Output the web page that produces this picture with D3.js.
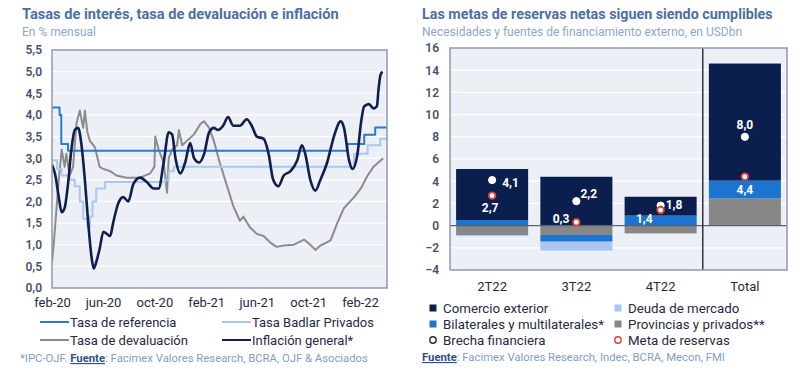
<!DOCTYPE html>
<html>
<head>
<meta charset="utf-8">
<script src="https://cdn.jsdelivr.net/npm/d3@7"></script>
<style>
  body { margin: 0; background: #fff; }
  svg { font-family: Roboto, "Open Sans", sans-serif; }
</style>
</head>
<body>
<svg id="chart" width="800" height="375"></svg>
<script>
// ---- datos: panel izquierdo (% mensual) ----
const refDates = ["2020-02-01","2020-02-19","2020-02-23","2020-03-10","2022-01-02","2022-02-11","2022-03-09","2022-04-06"];
const refValues = [4.17, 4.0, 3.33, 3.17, 3.33, 3.54, 3.71, 3.71];

const badlarDates = ["2020-02-01","2020-02-13","2020-02-24","2020-03-14","2020-03-26","2020-04-07","2020-04-15","2020-04-25","2020-05-01","2020-05-07","2020-05-16","2020-06-06","2020-10-27","2020-11-04","2020-11-16","2022-01-18","2022-02-19","2022-03-21","2022-04-06"];
const badlarValues = [2.95, 2.75, 2.6, 2.5, 2.35, 2.0, 1.6, 1.4, 1.65, 2.0, 2.3, 2.45, 2.5, 2.7, 2.8, 3.1, 3.3, 3.45, 3.45];

const devalDates = ["2020-02-01","2020-02-05","2020-02-09","2020-02-17","2020-02-24","2020-03-02","2020-03-06","2020-03-14","2020-03-22","2020-03-30","2020-04-07","2020-04-15","2020-04-19","2020-04-25","2020-05-01","2020-05-13","2020-05-24","2020-06-02","2020-06-18","2020-07-03","2020-07-27","2020-08-28","2020-09-21","2020-10-01","2020-10-03","2020-10-11","2020-10-23","2020-10-31","2020-11-04","2020-11-12","2020-11-24","2020-11-28","2020-12-06","2020-12-17","2021-01-03","2021-01-19","2021-01-27","2021-02-08","2021-02-19","2021-03-05","2021-03-21","2021-04-06","2021-04-22","2021-04-30","2021-05-16","2021-06-01","2021-06-17","2021-07-03","2021-07-18","2021-08-04","2021-08-28","2021-09-13","2021-09-21","2021-10-06","2021-10-18","2021-10-30","2021-11-23","2021-12-09","2021-12-25","2022-01-18","2022-02-03","2022-02-19","2022-03-05","2022-03-28"];
const devalValues = [0.6, 1.0, 1.5, 2.5, 3.2, 2.8, 3.1, 2.6, 2.8, 3.8, 4.1, 3.7, 4.1, 3.6, 3.4, 3.25, 2.8, 2.75, 2.7, 2.6, 2.55, 2.55, 2.65, 2.8, 3.5, 3.2, 2.9, 2.2, 3.0, 3.2, 3.3, 3.65, 3.3, 3.4, 3.55, 3.8, 3.85, 3.7, 3.4, 2.9, 2.4, 1.9, 1.55, 1.65, 1.4, 1.25, 1.2, 1.05, 0.95, 0.98, 1.0, 1.08, 1.12, 1.0, 0.88, 0.98, 1.1, 1.5, 1.85, 2.1, 2.3, 2.6, 2.8, 3.0];

const inflDates = ["2020-02-01","2020-02-09","2020-02-17","2020-02-24","2020-03-02","2020-03-10","2020-03-18","2020-03-26","2020-04-03","2020-04-11","2020-04-19","2020-04-27","2020-05-05","2020-05-10","2020-05-16","2020-05-24","2020-06-02","2020-06-10","2020-06-18","2020-06-25","2020-07-07","2020-07-19","2020-07-31","2020-08-12","2020-08-28","2020-09-13","2020-09-29","2020-10-11","2020-10-23","2020-11-04","2020-11-12","2020-11-20","2020-12-02","2020-12-13","2020-12-25","2021-01-03","2021-01-15","2021-01-27","2021-02-08","2021-02-19","2021-03-01","2021-03-13","2021-03-25","2021-04-06","2021-04-22","2021-05-08","2021-05-20","2021-06-01","2021-06-17","2021-06-29","2021-07-10","2021-07-22","2021-08-04","2021-08-20","2021-09-05","2021-09-16","2021-09-24","2021-10-06","2021-10-18","2021-10-30","2021-11-15","2021-12-01","2021-12-17","2021-12-25","2022-01-06","2022-01-14","2022-01-26","2022-02-03","2022-02-11","2022-02-22","2022-03-05","2022-03-13","2022-03-17","2022-03-21","2022-03-26"];
const inflValues = [2.85, 2.6, 2.1, 1.75, 1.85, 2.4, 3.2, 3.65, 3.7, 3.3, 2.5, 1.5, 0.7, 0.45, 0.6, 0.9, 1.3, 1.25, 1.2, 1.5, 1.95, 2.1, 2.0, 2.4, 2.55, 2.45, 2.3, 2.3, 2.9, 3.6, 3.55, 3.0, 2.65, 2.9, 3.35, 3.0, 2.9, 3.1, 3.6, 3.7, 3.65, 3.75, 3.95, 3.75, 3.75, 3.9, 3.75, 3.5, 3.45, 3.1, 2.5, 2.35, 2.6, 2.7, 2.95, 3.3, 3.1, 2.5, 2.25, 2.5, 2.9, 3.5, 3.85, 3.7, 2.95, 2.75, 3.1, 3.8, 4.2, 4.25, 4.15, 4.2, 4.6, 4.9, 5.0];

const xTickDates = ["2020-02-01","2020-06-01","2020-10-01","2021-02-01","2021-06-01","2021-10-01","2022-02-01"];
const xTickLabels = ["feb-20","jun-20","oct-20","feb-21","jun-21","oct-21","feb-22"];
const yTicksLeft = [0,0.5,1,1.5,2,2.5,3,3.5,4,4.5,5,5.5];

// ---- datos: panel derecho (USDbn) ----
const quarters = ["2T22","3T22","4T22","Total"];
const comercio = [4.6, 4.4, 1.7, 10.55];
const bilaterales = [0.5, -0.6, 0.9, 1.6];
const deuda = [-0.1, -0.8, 0, 0];
const provincias = [-0.85, -0.85, -0.7, 2.45];
const brecha = [4.1, 2.2, 1.8, 8.0];
const meta = [2.7, 0.3, 1.4, 4.4];
const yTicksRight = [-4,-2,0,2,4,6,8,10,12,14,16];

const svg = d3.select("#chart");
const parse = d3.timeParse("%Y-%m-%d");
const fmt = d3.format(".1f");
const coma = v => fmt(v).replace(".", ",");

const titleCol = "#4d6fa6", subCol = "#8ea6cb", tickCol = "#45526e", textCol = "#1f2a44";

// ================= panel izquierdo =================
const L = {x0: 52, x1: 387, y0: 50, y1: 288};
const xL = d3.scaleTime().domain([parse("2020-02-01"), parse("2022-04-06")]).range([L.x0, L.x1]);
const yL = d3.scaleLinear().domain([0, 5.5]).range([L.y1, L.y0]);

svg.append("text").attr("x", 22).attr("y", 19).attr("fill", titleCol)
  .attr("font-size", 14.6).attr("font-weight", 700)
  .text("Tasas de interés, tasa de devaluación e inflación");
svg.append("text").attr("x", 22).attr("y", 36).attr("fill", subCol)
  .attr("font-size", 12).text("En % mensual");

svg.append("rect").attr("x", L.x0).attr("y", L.y0)
  .attr("width", L.x1 - L.x0).attr("height", L.y1 - L.y0)
  .attr("fill", "#eceff5");

svg.append("g").selectAll("line")
  .data(yTicksLeft.filter(d => d > 0 && d < 5.5))
  .enter().append("line")
  .attr("x1", L.x0).attr("x2", L.x1)
  .attr("y1", d => yL(d)).attr("y2", d => yL(d))
  .attr("stroke", "#fff").attr("stroke-width", 1.2);

const yAxisL = svg.append("g").attr("transform", `translate(${L.x0},0)`)
  .call(d3.axisLeft(yL).tickValues(yTicksLeft).tickSize(0).tickPadding(10)
    .tickFormat(d => coma(d)));
yAxisL.select(".domain").remove();
yAxisL.selectAll("text").attr("fill", tickCol).attr("font-size", 12)
  .attr("font-weight", 600).attr("font-family", "Roboto, sans-serif");

const xAxisL = svg.append("g").attr("transform", `translate(0,${L.y1})`)
  .call(d3.axisBottom(xL).tickValues(xTickDates.map(parse)).tickSize(0).tickPadding(10)
    .tickFormat((d, i) => xTickLabels[i]));
xAxisL.select(".domain").remove();
xAxisL.selectAll("text").attr("fill", textCol).attr("font-size", 13)
  .attr("font-family", "Roboto, sans-serif");

svg.append("clipPath").attr("id", "clipL").append("rect")
  .attr("x", L.x0).attr("y", L.y0).attr("width", L.x1 - L.x0).attr("height", L.y1 - L.y0);

const toPts = (dates, vals) => dates.map((d, i) => ({date: parse(d), v: vals[i]}));
const series = [
  {name: "Tasa de devaluación", pts: toPts(devalDates, devalValues), color: "#8c8c8c", w: 2, curve: d3.curveLinear},
  {name: "Tasa Badlar Privados", pts: toPts(badlarDates, badlarValues), color: "#aac7ee", w: 2, curve: d3.curveStepAfter},
  {name: "Tasa de referencia", pts: toPts(refDates, refValues), color: "#2a7bcf", w: 2, curve: d3.curveStepAfter},
  {name: "Inflación general*", pts: toPts(inflDates, inflValues), color: "#0e1f4f", w: 2.6, curve: d3.curveMonotoneX}
];

const gLines = svg.append("g").attr("clip-path", "url(#clipL)");
series.forEach(s => {
  gLines.append("path").datum(s.pts)
    .attr("fill", "none").attr("stroke", s.color).attr("stroke-width", s.w)
    .attr("stroke-linejoin", "round")
    .attr("d", d3.line().x(d => xL(d.date)).y(d => yL(d.v)).curve(s.curve));
});

svg.append("rect").attr("x", L.x0).attr("y", L.y0)
  .attr("width", L.x1 - L.x0).attr("height", L.y1 - L.y0)
  .attr("fill", "none").attr("stroke", "#8d9ab3").attr("stroke-width", 1.5);

// leyenda izquierda
const legL = [
  {name: "Tasa de referencia", color: "#2a7bcf", x: 40, y: 322},
  {name: "Tasa Badlar Privados", color: "#aac7ee", x: 222, y: 322},
  {name: "Tasa de devaluación", color: "#8c8c8c", x: 40, y: 340},
  {name: "Inflación general*", color: "#0e1f4f", x: 222, y: 340}
];
const gl = svg.append("g").selectAll("g").data(legL).enter().append("g");
gl.append("line").attr("x1", d => d.x).attr("x2", d => d.x + 29)
  .attr("y1", d => d.y).attr("y2", d => d.y)
  .attr("stroke", d => d.color).attr("stroke-width", 2);
gl.append("text").attr("x", d => d.x + 30).attr("y", d => d.y).attr("dy", "0.35em")
  .attr("fill", textCol).attr("font-size", 13).text(d => d.name);

const srcL = svg.append("text").attr("x", 20).attr("y", 362).attr("font-size", 11.3).attr("fill", "#7f9dc9");
srcL.append("tspan").text("*IPC-OJF. ");
srcL.append("tspan").attr("fill", "#2d4f8e").attr("font-weight", 700)
  .attr("text-decoration", "underline").text("Fuente");
srcL.append("tspan").text(": Facimex Valores Research, BCRA, OJF & Asociados");

// ================= panel derecho =================
const R = {x0: 450, x1: 787, y0: 48, y1: 270};
const xR = d3.scaleBand().domain(quarters).range([R.x0, R.x1]).paddingInner(0.145).paddingOuter(0.0725);
const yR = d3.scaleLinear().domain([-4, 16]).range([R.y1, R.y0]);

svg.append("text").attr("x", 422).attr("y", 19).attr("fill", titleCol)
  .attr("font-size", 14.3).attr("font-weight", 700)
  .text("Las metas de reservas netas siguen siendo cumplibles");
svg.append("text").attr("x", 422).attr("y", 36).attr("fill", subCol)
  .attr("font-size", 12).text("Necesidades y fuentes de financiamiento externo, en USDbn");

svg.append("rect").attr("x", R.x0).attr("y", R.y0)
  .attr("width", R.x1 - R.x0).attr("height", R.y1 - R.y0).attr("fill", "#eceff5");

svg.append("g").selectAll("line")
  .data(yTicksRight.filter(d => d > -4 && d < 16))
  .enter().append("line")
  .attr("x1", R.x0).attr("x2", R.x1)
  .attr("y1", d => yR(d)).attr("y2", d => yR(d))
  .attr("stroke", "#fff").attr("stroke-width", 1.2);

const yAxisR = svg.append("g").attr("transform", `translate(${R.x0},0)`)
  .call(d3.axisLeft(yR).tickValues(yTicksRight).tickSize(0).tickPadding(11));
yAxisR.select(".domain").remove();
yAxisR.selectAll("text").attr("fill", tickCol).attr("font-size", 12)
  .attr("font-weight", 600).attr("font-family", "Roboto, sans-serif");

const xAxisR = svg.append("g").attr("transform", `translate(0,${R.y1})`)
  .call(d3.axisBottom(xR).tickSize(0).tickPadding(12));
xAxisR.select(".domain").remove();
xAxisR.selectAll("text").attr("fill", textCol).attr("font-size", 13)
  .attr("font-family", "Roboto, sans-serif");

const keys = ["provincias", "bilaterales", "comercio", "deuda"];
const colors = {provincias: "#878787", bilaterales: "#1b74d0", comercio: "#0b1f4e", deuda: "#a9c8ef"};
const rows = quarters.map((q, i) => ({q, provincias: provincias[i], bilaterales: bilaterales[i], comercio: comercio[i], deuda: deuda[i]}));
const stacked = d3.stack().keys(keys).offset(d3.stackOffsetDiverging)(rows);

svg.append("g").selectAll("g").data(stacked).enter().append("g")
  .attr("fill", d => colors[d.key])
  .selectAll("rect").data(d => d).enter().append("rect")
  .attr("x", d => xR(d.data.q)).attr("width", xR.bandwidth())
  .attr("y", d => yR(Math.max(d[0], d[1])))
  .attr("height", d => Math.abs(yR(d[0]) - yR(d[1])));

// línea del cero y separador
svg.append("line").attr("x1", R.x0).attr("x2", R.x1)
  .attr("y1", yR(0)).attr("y2", yR(0)).attr("stroke", "#5a6170").attr("stroke-width", 1.2);
const sepX = (xR("4T22") + xR.bandwidth() + xR("Total")) / 2;
svg.append("line").attr("x1", sepX).attr("x2", sepX)
  .attr("y1", R.y0).attr("y2", R.y1).attr("stroke", "#2e3440").attr("stroke-width", 1.5);

// puntos y etiquetas
const brechaOff = [[10, 3, "start"], [4, -7, "start"], [5, -1, "start"], [0, -12, "middle"]];
const metaOff = [[-2, 12, "middle"], [-7, -3, "end"], [-8, 9, "end"], [0, 13, "middle"]];
const cx = q => xR(q) + xR.bandwidth() / 2;

quarters.forEach((q, i) => {
  svg.append("circle").attr("cx", cx(q)).attr("cy", yR(brecha[i])).attr("r", 3.6)
    .attr("fill", "#fff").attr("stroke", "#fff");
  svg.append("circle").attr("cx", cx(q)).attr("cy", yR(meta[i])).attr("r", 3.3)
    .attr("fill", "#fff").attr("stroke", "#e2403d").attr("stroke-width", 1.8);
  svg.append("text").attr("x", cx(q) + brechaOff[i][0]).attr("y", yR(brecha[i]) + brechaOff[i][1])
    .attr("dy", "0.35em").attr("text-anchor", brechaOff[i][2])
    .attr("fill", "#fff").attr("font-size", 12).attr("font-weight", 700).text(coma(brecha[i]));
  svg.append("text").attr("x", cx(q) + metaOff[i][0]).attr("y", yR(meta[i]) + metaOff[i][1])
    .attr("dy", "0.35em").attr("text-anchor", metaOff[i][2])
    .attr("fill", "#fff").attr("font-size", 12).attr("font-weight", 700).text(coma(meta[i]));
});

svg.append("rect").attr("x", R.x0).attr("y", R.y0)
  .attr("width", R.x1 - R.x0).attr("height", R.y1 - R.y0)
  .attr("fill", "none").attr("stroke", "#8d9ab3").attr("stroke-width", 1.5);

// leyenda derecha
const legR = [
  {name: "Comercio exterior", type: "sq", color: colors.comercio, x: 433, y: 308},
  {name: "Deuda de mercado", type: "sq", color: colors.deuda, x: 618, y: 308},
  {name: "Bilaterales y multilaterales*", type: "sq", color: colors.bilaterales, x: 433, y: 324},
  {name: "Provincias y privados**", type: "sq", color: colors.provincias, x: 618, y: 324},
  {name: "Brecha financiera", type: "ci", color: "#333", x: 433, y: 340},
  {name: "Meta de reservas", type: "ci", color: "#e2403d", x: 618, y: 340}
];
const gr = svg.append("g").selectAll("g").data(legR).enter().append("g");
gr.filter(d => d.type === "sq").append("rect")
  .attr("x", d => d.x - 3.5).attr("y", d => d.y - 3.5).attr("width", 7).attr("height", 7)
  .attr("fill", d => d.color);
gr.filter(d => d.type === "ci").append("circle")
  .attr("cx", d => d.x).attr("cy", d => d.y).attr("r", 3.2)
  .attr("fill", "#fff").attr("stroke", d => d.color).attr("stroke-width", 1.4);
gr.append("text").attr("x", d => d.x + 10).attr("y", d => d.y).attr("dy", "0.35em")
  .attr("fill", textCol).attr("font-size", 13.3).text(d => d.name);

const srcR = svg.append("text").attr("x", 422).attr("y", 361).attr("font-size", 11.3).attr("fill", "#7f9dc9");
srcR.append("tspan").attr("fill", "#2d4f8e").attr("font-weight", 700)
  .attr("text-decoration", "underline").text("Fuente");
srcR.append("tspan").text(": Facimex Valores Research, Indec, BCRA, Mecon, FMI");
</script>
</body>
</html>
